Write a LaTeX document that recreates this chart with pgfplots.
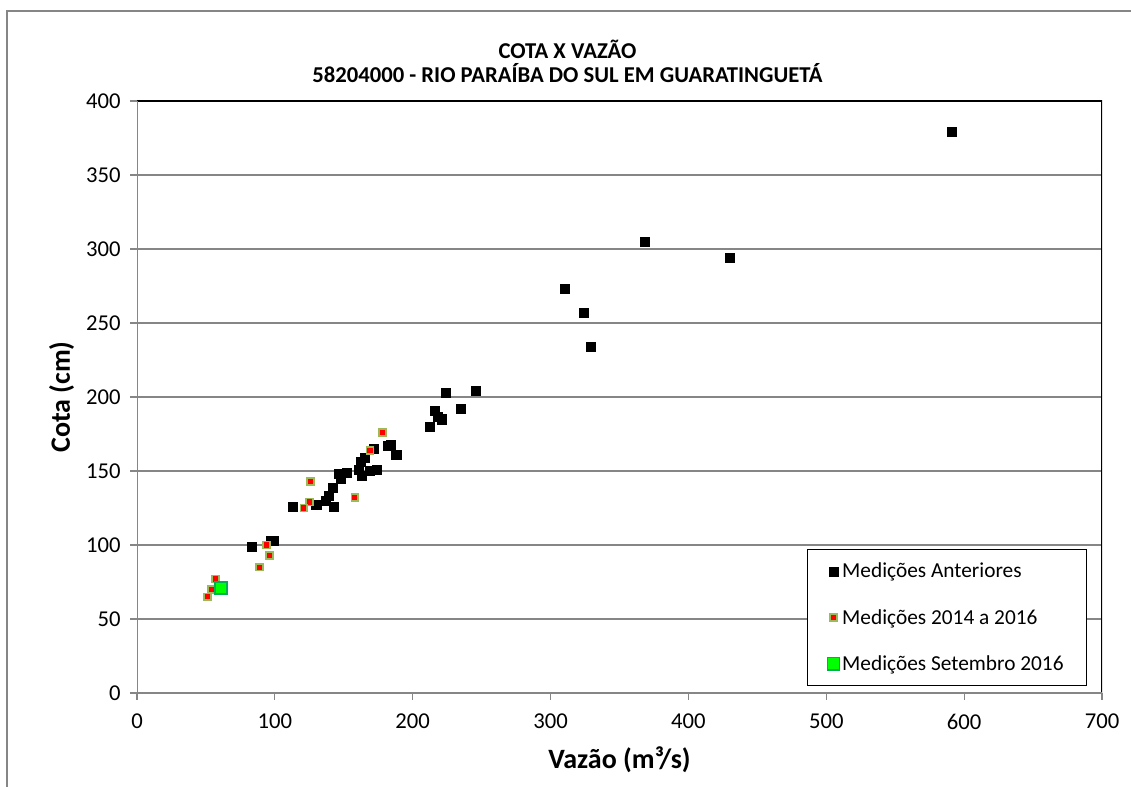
\documentclass[border=0pt]{standalone}
\usepackage{fontspec}
\setmainfont{Carlito}
\usepackage{pgfplots}
\pgfplotsset{compat=1.18}

\definecolor{gridgray}{HTML}{868686}
\definecolor{olivebrd}{HTML}{9BBB59}
\definecolor{limefill}{HTML}{00FF00}
\definecolor{greenbrd}{HTML}{00B050}

\begin{document}
\begin{tikzpicture}
% page frame (1131 x 787 px, 1px = 0.75pt)
\useasboundingbox (0,0) rectangle (848.25pt,590.25pt);
\draw[gridgray, line width=1.5pt] (5.25pt,0) -- (5.25pt,582pt) -- (848.25pt,582pt);

\node[align=center, font=\fontsize{17}{18}\selectfont\bfseries] at (425.6pt,544.1pt)
  {COTA X VAZÃO\\58204000 - RIO PARAÍBA DO SUL EM GUARATINGUETÁ};

\begin{axis}[
    at={(102.75pt,70.5pt)}, anchor=south west,
    scale only axis,
    width=723.75pt, height=444pt,
    xmin=0, xmax=700, ymin=0, ymax=400,
    xtick={0,100,...,700},
    ytick={0,50,...,400},
    xtick pos=bottom, ytick pos=left,
    tick align=outside,
    major tick length=5.25pt,
    tick style={gridgray, line width=0.9pt},
    ymajorgrids,
    major grid style={gridgray, line width=1pt},
    axis line style={draw=none},
    ticklabel style={font=\fontsize{17}{20}\selectfont},
    xticklabel style={yshift=-7pt},
    yticklabel style={xshift=-3.5pt},
    /pgf/number format/assume math mode=true,
    xlabel={Vazão (m³/s)},
    ylabel={Cota (cm)},
    label style={font=\fontsize{21}{24}\selectfont\bfseries},
    xlabel style={at={(axis description cs:0.5,-0.113)}, anchor=center},
    ylabel style={at={(axis description cs:-0.078,0.5)}, anchor=center},
    legend style={at={(0.694,0.243)}, anchor=north west, draw=black,
        line width=0.9pt, font=\fontsize{16}{19}\selectfont,
        row sep=18pt, inner xsep=15pt, inner ysep=8pt},
    legend cell align=left,
    legend image code/.code={\draw[mark repeat=2,mark phase=2,#1]
        plot coordinates {(0cm,0cm) (0.08cm,0cm) (0.3cm,0cm)};},
]
\addplot[only marks, mark=square*, mark size=3.4pt,
    mark options={fill=black, draw=black, line width=0.3pt}] coordinates {
 (591,379) (368,305) (430,294) (310,273) (324,257) (329,234)
 (224,203) (246,204) (216,191) (235,192) (218,187) (221,185) (212,180)
 (182,167) (184,168) (188,161) (172,165)
 (165,159) (162,156) (174,151) (169,150) (163,147) (161,151) (152,149)
 (146,148) (148,145) (142,139) (139,133) (137,130) (130,127) (143,126)
 (113,126) (99,103) (97,103) (83,99)
};
\addlegendentry{Medições Anteriores}

\addplot[only marks, mark=square*, mark size=2.6pt,
    mark options={fill=red, draw=olivebrd, line width=1.2pt}] coordinates {
 (178,176) (169,164) (126,143) (125,129) (121,125) (158,132)
 (94,100) (96,93) (89,85) (57,77) (54,70) (51,65)
};
\addlegendentry{Medições 2014 a 2016}

\addplot[only marks, mark=square*, mark size=4.6pt,
    mark options={fill=limefill, draw=greenbrd, line width=1.2pt}] coordinates {
 (61,71)
};
\addlegendentry{Medições Setembro 2016}

\draw[black, line width=1.5pt] (rel axis cs:0,1) -- (rel axis cs:1,1) -- (rel axis cs:1,0);
\draw[gridgray, line width=1pt] (rel axis cs:0,1) -- (rel axis cs:0,0) -- (rel axis cs:1,0);
\end{axis}
\end{tikzpicture}
\end{document}
